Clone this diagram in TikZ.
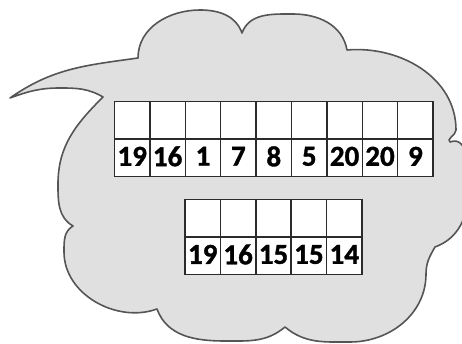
\documentclass[tikz,border=0pt]{standalone}
\usepackage{fontspec}
\newfontfamily\numfont{Carlito}[FakeBold=1.2]
\usetikzlibrary{positioning}
\definecolor{CloudFill}{HTML}{E0E0E0}
\definecolor{CloudLine}{HTML}{555555}
\definecolor{GridLine}{HTML}{2B2B2B}

\begin{document}
\begin{tikzpicture}[x=1pt,y=1pt,
  cloud/.style={draw=CloudLine,fill=CloudFill,line width=1.6pt,line join=round},
  blank/.style={draw=GridLine,fill=white,line width=1.5pt,minimum width=35.4pt,minimum height=37.6pt,inner sep=0pt,outer sep=0pt},
  numcell/.style={blank,text depth=3pt,font=\numfont\bfseries\fontsize{29}{29}\selectfont}
]
\useasboundingbox (0,0) rectangle (462,344);
% speech cloud with tail
\draw[cloud] (10,246) to[out=35,in=188] (138,286)
  to[out=90,in=180] (200,334) to[out=0,in=110] (242,311)
  to[out=70,in=180] (293,330) to[out=0,in=100] (347,294)
  to[out=5,in=90] (456,214) to[out=-90,in=150] (450,202)
  to[out=20,in=90] (468,152) to[out=-90,in=20] (435,97)
  to[out=-120,in=90] (426,70) to[out=-90,in=0] (350,2) to[out=180,in=-40] (285,17)
  to[out=-140,in=0] (225,3) to[out=180,in=-70] (157,35)
  to[out=200,in=-90] (64,92) to[out=90,in=-150] (73,118)
  to[out=150,in=-90] (58,160) to[out=90,in=-135] (103,247)
  to[out=150,in=0] (60,256) to[out=180,in=20] (10,246) -- cycle;
% upper row
\foreach \v [count=\i] in {19,16,1,7,8,5,20,20,9} {
  \node[blank] (u\i) at ({114.5+35.4*(\i-0.5)},223.8) {};
  \node[numcell,below=0pt of u\i] (un\i) {\v};
}
% lower row
\foreach \v [count=\i] in {19,16,15,15,14} {
  \node[blank] (l\i) at ({185+35.4*(\i-0.5)},125.7) {};
  \node[numcell,below=0pt of l\i] (ln\i) {\v};
}
\end{tikzpicture}
\end{document}
